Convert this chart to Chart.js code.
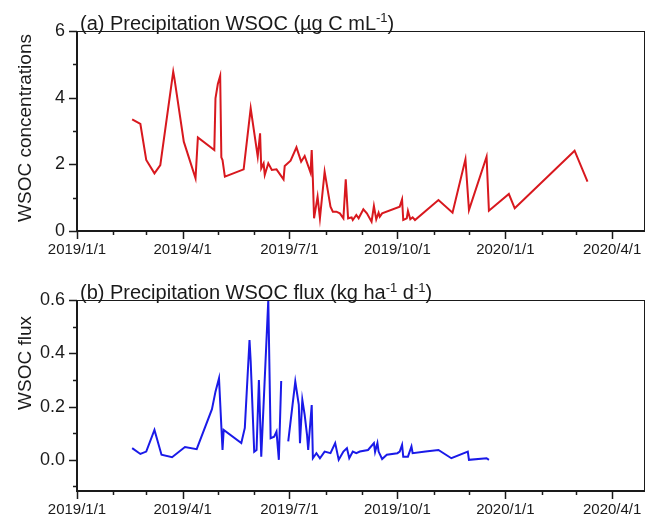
<!DOCTYPE html>
<html>
<head>
<meta charset="utf-8">
<script src="https://cdn.jsdelivr.net/npm/chart.js@4.4.1/dist/chart.umd.min.js"></script>
<style>
  html, body { margin: 0; padding: 0; background: #fff; }
  #wrap { position: relative; width: 646px; height: 521px; }
  canvas { position: absolute; left: 0; }
</style>
</head>
<body>
<div id="wrap">
  <canvas id="concChart" width="646" height="260" style="top:0"></canvas>
  <canvas id="fluxChart" width="646" height="261" style="top:260px"></canvas>
</div>
<script>
// (a) WSOC concentrations in precipitation
const concDates = ['2019-02-17','2019-02-24','2019-03-01','2019-03-08','2019-03-13','2019-03-24','2019-03-25','2019-04-02','2019-04-12','2019-04-14',
  '2019-04-28','2019-04-29','2019-05-01','2019-05-03','2019-05-04','2019-05-05','2019-05-07','2019-05-23','2019-05-29','2019-06-04',
  '2019-06-06','2019-06-07','2019-06-09','2019-06-10','2019-06-13','2019-06-16','2019-06-20','2019-06-26','2019-06-27','2019-07-02',
  '2019-07-07','2019-07-11','2019-07-14','2019-07-19','2019-07-20','2019-07-21','2019-07-22','2019-07-25','2019-07-27','2019-07-31',
  '2019-08-05','2019-08-07','2019-08-10','2019-08-13','2019-08-16','2019-08-18','2019-08-20','2019-08-23','2019-08-24','2019-08-27',
  '2019-08-29','2019-09-02','2019-09-05','2019-09-09','2019-09-11','2019-09-13','2019-09-15','2019-09-16','2019-09-18','2019-10-03',
  '2019-10-05','2019-10-06','2019-10-09','2019-10-10','2019-10-12','2019-10-14','2019-10-16','2019-11-05','2019-11-17','2019-11-28',
  '2019-12-01','2019-12-16','2019-12-18','2020-01-04','2020-01-09','2020-02-29','2020-03-11'];
const concValues = [3.35,3.21,2.13,1.73,1.98,4.78,4.58,2.68,1.58,2.81,
  2.43,3.98,4.41,4.65,2.21,2.13,1.63,1.85,3.68,2.23,
  2.93,1.88,2.03,1.68,2.03,1.83,1.85,1.55,1.95,2.11,
  2.51,2.08,2.25,1.75,2.43,1.53,0.38,1.03,0.38,1.78,
  0.73,0.58,0.58,0.53,0.38,1.55,0.38,0.41,0.33,0.48,
  0.38,0.65,0.53,0.28,0.75,0.35,0.55,0.43,0.53,0.73,
  0.95,0.33,0.38,0.6,0.35,0.41,0.33,0.93,0.55,2.15,
  0.63,2.23,0.61,1.11,0.68,2.41,1.48];

// (b) WSOC flux, null = missing sample
const fluxDates = ['2019-02-17','2019-02-24','2019-03-01','2019-03-08','2019-03-14','2019-03-23','2019-04-03','2019-04-13','2019-04-26','2019-04-29',
  '2019-05-02','2019-05-04','2019-05-05','2019-05-06','2019-05-21','2019-05-24','2019-05-28','2019-05-29','2019-06-01','2019-06-03',
  '2019-06-05','2019-06-07','2019-06-13','2019-06-15','2019-06-18','2019-06-20','2019-06-22','2019-06-24','2019-06-27','2019-06-30',
  '2019-07-06','2019-07-09','2019-07-10','2019-07-12','2019-07-14','2019-07-16','2019-07-17','2019-07-20','2019-07-21','2019-07-24',
  '2019-07-27','2019-07-31','2019-08-05','2019-08-09','2019-08-12','2019-08-16','2019-08-19','2019-08-21','2019-08-24','2019-08-27',
  '2019-08-30','2019-09-06','2019-09-11','2019-09-12','2019-09-14','2019-09-15','2019-09-18','2019-09-22','2019-10-01','2019-10-03',
  '2019-10-05','2019-10-06','2019-10-10','2019-10-13','2019-10-14','2019-10-25','2019-11-05','2019-11-16','2019-11-30','2019-12-01',
  '2019-12-16','2019-12-18'];
const fluxValues = [0.044,0.022,0.031,0.112,0.019,0.010,0.048,0.040,0.19,0.256,
  0.306,0.125,0.037,0.112,0.063,0.12,0.45,0.37,0.03,0.037,
  0.30,0.012,0.60,0.081,0.087,0.106,0.0,0.296,null,0.069,
  0.294,0.206,0.062,0.225,0.169,0.094,0.037,0.206,0.006,0.025,
  0.006,0.031,0.025,0.063,0.0,0.031,0.044,0.006,0.031,0.025,
  0.031,0.037,0.063,0.03,0.063,0.031,0.003,0.019,0.025,0.031,
  0.056,0.012,0.012,0.05,0.025,0.031,0.037,0.006,0.031,0.0,
  0.006,0.0];

const xStart = '2019-01-01';
const xEnd = '2020-04-29';
const concYTicks = [0, 1, 2, 3, 4, 5, 6];
const concYLabelled = [0, 2, 4, 6];
const fluxYTicks = [-0.1, 0, 0.1, 0.2, 0.3, 0.4, 0.5, 0.6];
const fluxYLabelled = [0, 0.2, 0.4, 0.6];

const FONT = '"Liberation Sans", Arial, sans-serif';
const INK = '#1a1a1a';

const dayNum = s => {
  const [y, m, d] = s.split('-').map(Number);
  return Date.UTC(y, m - 1, d) / 864e5;
};

// month starts from xStart up to 2020/4/1
const monthTicks = [];
for (let y = 2019, m = 0; y < 2020 || m <= 3; m++) {
  if (m > 11) { m = 0; y++; }
  monthTicks.push(Date.UTC(y, m, 1) / 864e5);
}

const toPoints = (dates, vals) => dates.map((d, i) => ({ x: dayNum(d), y: vals[i] }));

// plot frame + Origin-style outward ticks (long for labelled, short for minor)
const framePlugin = {
  id: 'frame',
  afterDraw(chart) {
    const { ctx, chartArea: a, scales } = chart;
    ctx.save();
    ctx.strokeStyle = INK;
    ctx.lineWidth = 1;
    ctx.strokeRect(a.left + 0.5, a.top + 0.5, a.right - a.left - 1, a.bottom - a.top);
    ctx.lineWidth = 2;
    ctx.beginPath();
    ctx.moveTo(a.left, a.top);
    ctx.lineTo(a.left, a.bottom);
    ctx.lineTo(a.right, a.bottom);
    ctx.stroke();
    ctx.lineWidth = 1.5;
    ctx.beginPath();
    scales.x.ticks.forEach(t => {
      const px = Math.round(scales.x.getPixelForValue(t.value)) + 0.5;
      ctx.moveTo(px, a.bottom);
      ctx.lineTo(px, a.bottom + (t.label ? 8 : 4));
    });
    scales.y.ticks.forEach(t => {
      const py = Math.round(scales.y.getPixelForValue(t.value)) + 0.5;
      ctx.moveTo(a.left, py);
      ctx.lineTo(a.left - (t.label ? 8 : 4), py);
    });
    ctx.stroke();
    ctx.restore();
  }
};

// panel title with superscripts and rotated y-axis title
const textPlugin = {
  id: 'panelText',
  afterDraw(chart, args, opts) {
    const ctx = chart.ctx;
    ctx.save();
    ctx.fillStyle = INK;
    ctx.textBaseline = 'alphabetic';
    ctx.textAlign = 'left';
    let x = opts.titleX;
    opts.title.forEach(seg => {
      ctx.font = (seg.sup ? 13 : 20) + 'px ' + FONT;
      ctx.fillText(seg.t, x, opts.titleY - (seg.sup ? 7.5 : 0));
      x += ctx.measureText(seg.t).width;
    });
    ctx.translate(opts.yTitleX, opts.yTitleY);
    ctx.rotate(-Math.PI / 2);
    ctx.textAlign = 'center';
    ctx.font = '19px ' + FONT;
    ctx.fillText(opts.yTitle, 0, 0);
    ctx.restore();
  }
};

function makeChart(id, cfg) {
  return new Chart(document.getElementById(id), {
    type: 'line',
    data: {
      datasets: [{
        data: cfg.points,
        borderColor: cfg.color,
        borderWidth: 2,
        pointRadius: 0,
        tension: 0,
        spanGaps: false
      }]
    },
    options: {
      responsive: false,
      animation: false,
      events: [],
      layout: { padding: { top: cfg.padTop, right: 1, left: 0, bottom: 0 } },
      plugins: {
        legend: { display: false },
        tooltip: { enabled: false },
        panelText: cfg.text
      },
      scales: {
        x: {
          type: 'linear',
          min: dayNum(xStart),
          max: dayNum(xEnd),
          afterBuildTicks: s => { s.ticks = monthTicks.map(v => ({ value: v })); },
          afterFit: s => { s.height = cfg.xHeight; },
          grid: { display: false, tickLength: 8 },
          border: { display: false },
          ticks: {
            autoSkip: false,
            maxRotation: 0,
            padding: 2,
            color: INK,
            font: { family: FONT, size: 15 },
            callback: v => {
              const d = new Date(v * 864e5);
              return d.getUTCMonth() % 3 === 0 ? d.getUTCFullYear() + '/' + (d.getUTCMonth() + 1) + '/1' : '';
            }
          }
        },
        y: {
          min: cfg.yMin,
          max: cfg.yMax,
          afterBuildTicks: s => { s.ticks = cfg.yTicks.map(v => ({ value: v })); },
          afterFit: s => { s.width = 77; },
          grid: { display: false, tickLength: 8 },
          border: { display: false },
          ticks: {
            padding: 4,
            color: INK,
            font: { family: FONT, size: 18 },
            callback: v => cfg.yLabelled.some(l => Math.abs(l - v) < 1e-9) ? cfg.fmt(v) : ''
          }
        }
      }
    },
    plugins: [framePlugin, textPlugin]
  });
}

makeChart('concChart', {
  points: toPoints(concDates, concValues),
  color: 'rgb(216, 24, 30)',
  padTop: 31,
  xHeight: 29,
  yMin: 0, yMax: 6,
  yTicks: concYTicks,
  yLabelled: concYLabelled,
  fmt: v => String(v),
  text: {
    title: [{ t: '(a) Precipitation WSOC (\u00b5g C mL' }, { t: '-1', sup: true }, { t: ')' }],
    titleX: 80, titleY: 29.5,
    yTitle: 'WSOC concentrations', yTitleX: 31, yTitleY: 128
  }
});

makeChart('fluxChart', {
  points: toPoints(fluxDates, fluxValues),
  color: 'rgb(26, 26, 232)',
  padTop: 40,
  xHeight: 30,
  yMin: -0.117, yMax: 0.6,
  yTicks: fluxYTicks,
  yLabelled: fluxYLabelled,
  fmt: v => v.toFixed(1),
  text: {
    title: [{ t: '(b) Precipitation WSOC flux (kg ha' }, { t: '-1', sup: true }, { t: ' d' }, { t: '-1', sup: true }, { t: ')' }],
    titleX: 80, titleY: 39,
    yTitle: 'WSOC flux', yTitleX: 31, yTitleY: 103
  }
});
</script>
</body>
</html>
